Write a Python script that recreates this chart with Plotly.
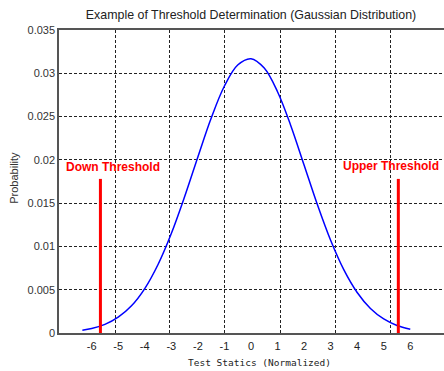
import plotly.graph_objects as go

# Gaussian-shaped probability curve
curve_x = [-6.35, -6.0, -5.5, -5.0, -4.5, -4.0, -3.5, -3.0, -2.5, -2.0, -1.5, -1.0, -0.5,
           0.0, 0.5, 1.0, 1.5, 2.0, 2.5, 3.0, 3.5, 4.0, 4.5, 5.0, 5.5, 6.0]
curve_y = [0.00031, 0.00051, 0.00099, 0.00182, 0.00314, 0.00513, 0.00791, 0.01149,
           0.01574, 0.02034, 0.02481, 0.02853, 0.03096, 0.03169, 0.03060, 0.02787,
           0.02395, 0.01941, 0.01484, 0.01071, 0.00729, 0.00468, 0.00283, 0.00162,
           0.00087, 0.00044]

# thresholds
threshold_names = ["Down Threshold", "Upper Threshold"]
threshold_x = [-5.67, 5.55]
threshold_top = [0.0178, 0.0178]
label_x = [-5.2, 5.27]
label_y = [0.0192, 0.0193]

# axes
x_tick_vals = [-6, -5, -4, -3, -2, -1, 0, 1, 2, 3, 4, 5, 6]
x_tick_text = ["-6", "-5", "-4", "-3", "-2", "-1", "0", "1", "2", "3", "4", "5", "6"]
x_grid_vals = [-5.12, -3.07, -0.98, 1.11, 3.18, 5.25]
y_tick_vals = [0, 0.005, 0.01, 0.015, 0.02, 0.025, 0.03, 0.035]
y_tick_text = ["0", "0.005", "0.01", "0.015", "0.02", "0.025", "0.03", "0.035"]
x_range = [-7.23, 7.27]

fig = go.Figure()
fig.add_trace(go.Scatter(x=curve_x, y=curve_y, mode="lines", line=dict(color="#0000ff", width=1.5, shape="spline"),
                         xaxis="x", yaxis="y", showlegend=False))
for tx, tt in zip(threshold_x, threshold_top):
    fig.add_trace(go.Scatter(x=[tx, tx], y=[0, tt], mode="lines", line=dict(color="#ff0000", width=3),
                             xaxis="x2", yaxis="y", showlegend=False))

annotations = []
for name, lx, ly in zip(threshold_names, label_x, label_y):
    annotations.append(dict(x=lx, y=ly, xref="x", yref="y", text="<b>%s</b>" % name, showarrow=False,
                            font=dict(family="Liberation Sans, Arial", size=12, color="#ff0000"),
                            xanchor="center", yanchor="middle"))
annotations.append(dict(x=0.522, y=-0.099, xref="paper", yref="paper", text="Test Statics (Normalized)",
                        showarrow=False, font=dict(family="DejaVu Sans Mono", size=9.5, color="#222"),
                        xanchor="center", yanchor="middle"))
annotations.append(dict(x=-0.119, y=0.513, xref="paper", yref="paper", text="Probability", textangle=-90,
                        showarrow=False, font=dict(family="Liberation Sans, Arial", size=11, color="#333"),
                        xanchor="center", yanchor="middle"))

fig.update_layout(
    width=444, height=371,
    margin=dict(l=59, r=0, t=30, b=38),
    paper_bgcolor="white", plot_bgcolor="white",
    title=dict(text="Example of Threshold Determination (Gaussian Distribution)",
               font=dict(family="Liberation Sans, Arial", size=12.4, color="#222"),
               x=0.5654, xanchor="center", y=1 - 15 / 371, yanchor="middle"),
    xaxis=dict(range=x_range, tickvals=x_grid_vals, showticklabels=False, ticks="",
               showgrid=True, gridcolor="#222", gridwidth=1, griddash="3px,2px",
               showline=True, mirror=True, linecolor="#555", linewidth=1.5, zeroline=False),
    xaxis2=dict(range=x_range, overlaying="x", side="bottom", tickvals=x_tick_vals, ticktext=x_tick_text,
                showgrid=False, showline=False, zeroline=False, ticks="outside", ticklen=3, tickcolor="rgba(0,0,0,0)",
                tickfont=dict(family="Liberation Sans, Arial", size=11, color="#222")),
    yaxis=dict(range=[0, 0.035], tickvals=y_tick_vals, ticktext=y_tick_text, ticks="",
               showgrid=True, gridcolor="#222", gridwidth=1, griddash="3px,2px",
               showline=True, linecolor="#555", linewidth=1.5, zeroline=False,
               tickfont=dict(family="Liberation Sans, Arial", size=11, color="#333")),
    annotations=annotations,
)

fig.write_html("out.html")
